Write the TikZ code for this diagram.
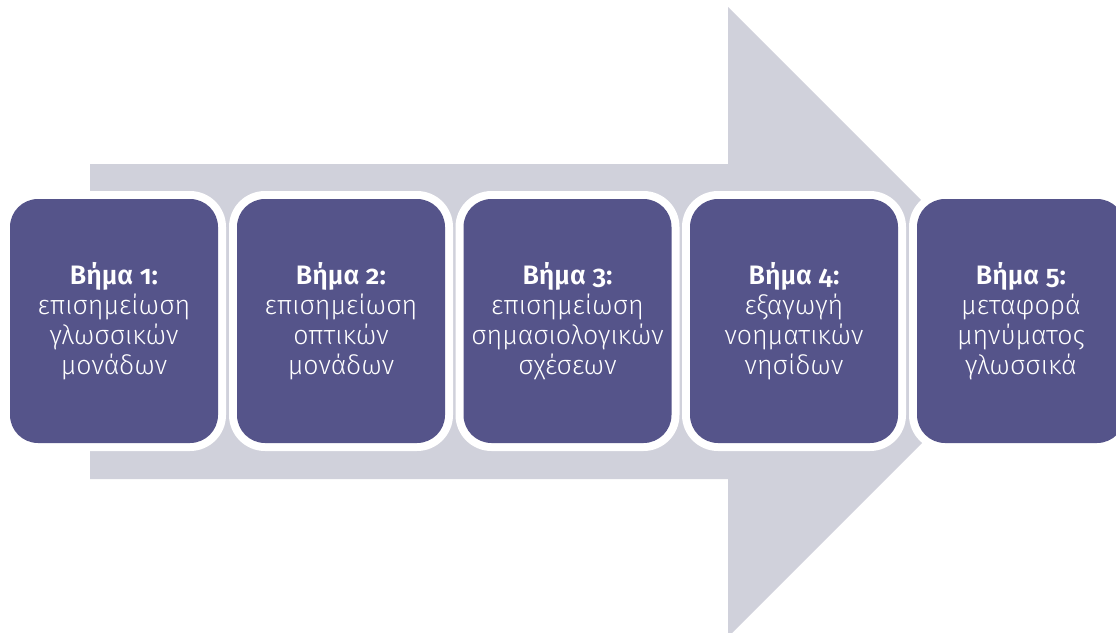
\documentclass[tikz,border=0pt]{standalone}
\usepackage{fontspec}
\setmainfont[Numbers=OldStyle, BoldFont={Fira Sans SemiBold}]{Fira Sans Light}
\definecolor{arrowgray}{HTML}{D0D1DB}
\definecolor{boxpurple}{HTML}{55548A}
\tikzset{
  cardrim/.style={fill=white, rounded corners=27pt},
  stepcard/.style={fill=boxpurple, rounded corners=21pt},
  steplabel/.style={text=white, align=center, font=\fontsize{20}{22.5}\selectfont},
}
\begin{document}
\begin{tikzpicture}[x=0.75pt,y=-0.75pt]
\useasboundingbox (0,0) rectangle (1116,632);
\clip (0,0) rectangle (1116,632);
% big arrow
\fill[arrowgray] (90,164) -- (728,164) -- (728,7) -- (1043,322) -- (728,637) -- (728,479) -- (90,479) -- cycle;
% step boxes
\foreach \i/\x/\t in {1/10/{\textbf{Βήμα 1:}\\επισημείωση\\γλωσσικών\\μονάδων},
                      2/237/{\textbf{Βήμα 2:}\\επισημείωση\\οπτικών\\μονάδων},
                      3/463.5/{\textbf{Βήμα 3:}\\επισημείωση\\σημασιολογικών\\σχέσεων},
                      4/690/{\textbf{Βήμα 4:}\\εξαγωγή\\νοηματικών\\νησίδων},
                      5/917/{\textbf{Βήμα 5:}\\μεταφορά\\μηνύματος\\γλωσσικά}}{
  \fill[cardrim] (\x-8,191) rectangle ++(224,260);
  \fill[stepcard] (\x,199) rectangle ++(208,244);
  \node[steplabel] (s\i) at (\x+104,321) {\t};
}
\end{tikzpicture}
\end{document}
